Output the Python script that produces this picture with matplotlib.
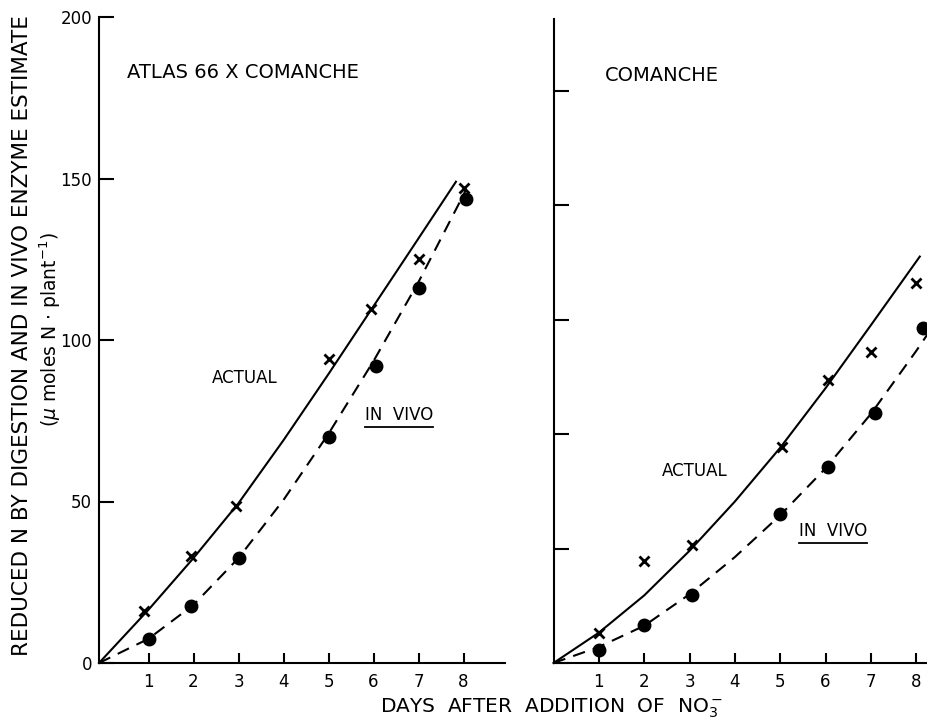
import matplotlib
matplotlib.use("Agg")
import matplotlib.pyplot as plt
from matplotlib.lines import Line2D

plt.rcParams['font.family'] = ['DejaVu Sans']

# --- data ---
days_ticks = [1, 2, 3, 4, 5, 6, 7, 8]

# Atlas 66 x Comanche
left_actual_x = [0.9, 1.95, 2.95, 5, 5.95, 7, 8]
left_actual_y = [16, 33, 48.5, 94, 109.5, 125, 147]
left_vivo_x = [1, 1.95, 3, 5, 6.05, 7, 8.05]
left_vivo_y = [7.5, 17.5, 32.5, 70, 92, 116, 143.5]
left_actual_fit_x = [-0.1, 1, 2, 3, 4, 5, 6, 7, 7.83]
left_actual_fit_y = [0, 16.5, 32.5, 49.5, 69, 89.5, 110.5, 131.5, 149]
left_vivo_fit_x = [-0.1, 1, 2, 3, 4, 5, 6, 7, 8, 8.05]
left_vivo_fit_y = [0, 7.5, 18, 32.5, 50.5, 71, 93.5, 118, 145, 146.5]

# Comanche (no y labels on this panel)
right_actual_x = [1, 2, 3.05, 5.05, 6.05, 7, 8]
right_actual_y = [5.2, 17.8, 20.6, 37.7, 49.5, 54.3, 66.4]
right_vivo_x = [1, 2, 3.05, 5, 6.05, 7.1, 8.15]
right_vivo_y = [2.3, 6.6, 11.9, 26, 34.2, 43.7, 58.5]
right_actual_fit_x = [0, 1, 2, 3, 4, 5, 6, 7, 8.08]
right_actual_fit_y = [0, 5.3, 11.8, 19.6, 28.2, 37.6, 48, 59, 71]
right_vivo_fit_x = [0, 1, 2, 3, 4, 5, 6, 7, 8, 8.3]
right_vivo_fit_y = [0, 2.8, 6.5, 12, 18.5, 25.8, 34, 43.5, 54.5, 58]

W, H = 927, 722
fig = plt.figure(figsize=(W / 100, H / 100), dpi=100)

ax1 = fig.add_axes([99 / W, 59 / H, 406 / W, 646 / H])
ax2 = fig.add_axes([553.5 / W, 59 / H, 408 / W, 644 / H])

dash = (0, (6, 4))


def style(ax):
    for side in ('top', 'right'):
        ax.spines[side].set_visible(False)
    for side in ('left', 'bottom'):
        ax.spines[side].set_linewidth(1.5)
    ax.tick_params(axis='y', direction='in', length=11, width=1.5, labelsize=12, pad=5)
    ax.tick_params(axis='x', direction='in', length=7, width=1.5, labelsize=12, pad=7)
    ax.set_xticks(days_ticks)


def underline(txt):
    fig.canvas.draw()
    bb = txt.get_window_extent()
    y = bb.y0 - 3
    fig.add_artist(Line2D([bb.x0 / W, bb.x1 / W], [y / H, y / H], color='black', lw=1.3,
                          transform=fig.transFigure))


# left panel
ax1.plot(left_actual_fit_x, left_actual_fit_y, color='black', lw=1.5, clip_on=False)
ax1.plot(left_vivo_fit_x, left_vivo_fit_y, color='black', lw=1.5, ls=dash, clip_on=False)
ax1.plot(left_actual_x, left_actual_y, 'x', color='black', ms=7, mew=2, clip_on=False)
ax1.plot(left_vivo_x, left_vivo_y, 'o', color='black', ms=9, clip_on=False)
ax1.set_xlim(-0.1, 8.92)
ax1.set_ylim(0, 200)
ax1.set_yticks([0, 50, 100, 150, 200])
style(ax1)
ax1.text(0.52, 182.7, 'ATLAS 66 X COMANCHE', fontsize=14, ha='left', va='center')
ax1.text(3.14, 88.2, 'ACTUAL', fontsize=12, ha='center', va='center')
t1 = ax1.text(6.57, 76.8, 'IN  VIVO', fontsize=12, ha='center', va='center')

# right panel
ax2.plot(right_actual_fit_x, right_actual_fit_y, color='black', lw=1.5, clip_on=False)
ax2.plot(right_vivo_fit_x, right_vivo_fit_y, color='black', lw=1.5, ls=dash, clip_on=False)
ax2.plot(right_actual_x, right_actual_y, 'x', color='black', ms=7, mew=2, clip_on=False)
ax2.plot(right_vivo_x, right_vivo_y, 'o', color='black', ms=9, clip_on=False)
ax2.set_xlim(0, 9)
ax2.set_ylim(0, 112.5)
ax2.set_yticks([0, 20, 40, 60, 80, 100])
ax2.set_yticklabels([])
style(ax2)
ax2.text(1.13, 102.7, 'COMANCHE', fontsize=14, ha='left', va='center')
ax2.text(3.12, 33.5, 'ACTUAL', fontsize=12, ha='center', va='center')
t2 = ax2.text(6.16, 23.1, 'IN  VIVO', fontsize=12, ha='center', va='center')

fig.text(380 / W, 1 - 708 / H, r'DAYS  AFTER  ADDITION  OF  NO$_3^-$', fontsize=14.5,
         ha='left', va='center')
fig.text(22 / W, 1 - 336 / H, 'REDUCED N BY DIGESTION AND IN VIVO ENZYME ESTIMATE',
         fontsize=15.5, rotation=90, ha='center', va='center')
fig.text(50 / W, 1 - 330 / H, r'($\mu$ moles N $\cdot$ plant$^{-1}$)',
         fontsize=13.5, rotation=90, ha='center', va='center')

underline(t1)
underline(t2)

fig.savefig('out.png', dpi=100)
